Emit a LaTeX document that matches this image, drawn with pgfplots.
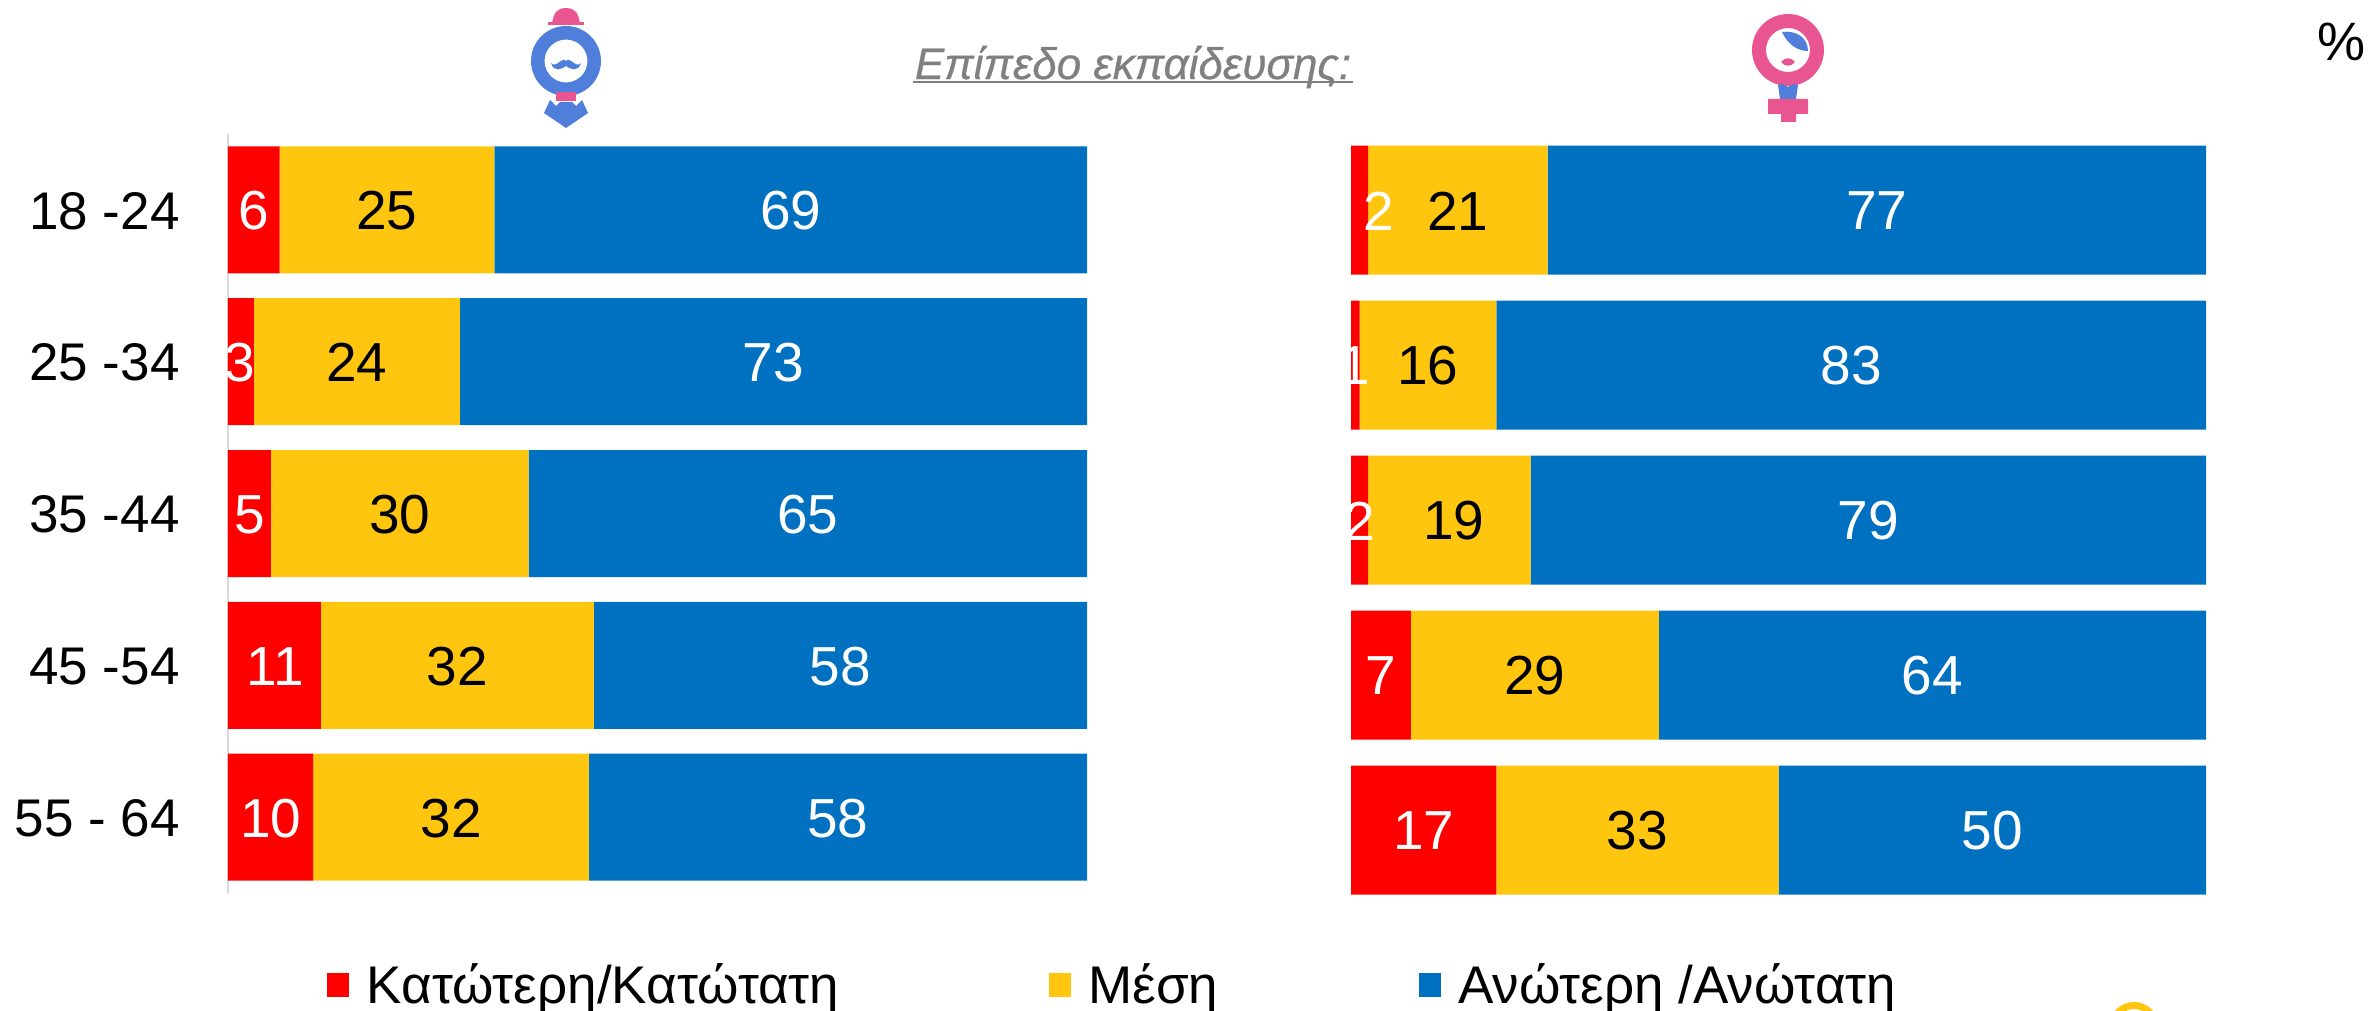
\documentclass[border=0pt]{standalone}
\usepackage{pgfplots}
\usepackage{pgfplotstable}
\pgfplotsset{compat=1.18}
\usepackage{fontspec}
\setmainfont{Liberation Sans}
\newfontfamily\titlefont[ItalicFeatures={FakeBold=0.6}]{Liberation Sans}
\definecolor{cred}{HTML}{FF0000}
\definecolor{cyel}{HTML}{FFC60F}
\definecolor{cblu}{HTML}{0070C0}
\definecolor{iblu}{HTML}{4F7FDB}
\definecolor{ipnk}{HTML}{E85590}
\pgfplotstableread{
y low mid high
0 6 25 69
1 3 24 73
2 5 30 65
3 10.8 31.8 57.4
4 9.9 32.1 58
}\leftbars
\pgfplotstableread{
y low mid high
0 2 21 77
1 1 16 83
2 2 19 79
3 7 29 64
4 17 33 50
}\rightbars
\pgfplotstableread{
x y v
3 0 6
1.4 1 3
2.5 2 5
5.5 3 11
5 4 10
65.5 0 69
63.5 1 73
67.5 2 65
71.3 3 58
71 4 58
}\leftwhite
\pgfplotstableread{
x y v
18.5 0 25
15 1 24
20 2 30
26.7 3 32
26 4 32
}\leftblack
\pgfplotstableread{
x y v
3.2 0 2
0.5 1 1
1 2 2
3.5 3 7
8.5 4 17
61.5 0 77
58.5 1 83
60.5 2 79
68 3 64
75 4 50
}\rightwhite
\pgfplotstableread{
x y v
12.5 0 21
9 1 16
12 2 19
21.5 3 29
33.5 4 33
}\rightblack
\newcommand{\fs}{\fontsize{26.5}{26.5}\selectfont}
\newcommand{\fn}{\fontsize{27.5}{27.5}\selectfont}
\pgfplotsset{
  /pgf/number format/assume math mode=true,
  base/.style={scale only axis, anchor=north west, xmin=0, xmax=100, ymin=-0.5, ymax=4.5, y dir=reverse,
    xtick=\empty, axis line style={draw=none}, clip=false},
  lab/.style={base, ytick=\empty, axis lines=none},
  wl/.style={only marks, mark=none, point meta=explicit, nodes near coords, nodes near coords align={center},
    every node near coord/.append style={font=\fn, anchor=center, inner sep=0pt, text=#1, yshift=-0.5pt}},
}
\begin{document}
\begin{tikzpicture}[x=0.5pt,y=-0.5pt]
\path[use as bounding box] (0,0) rectangle (2379,1011);
% left bars
\begin{axis}[base, at={(114pt,-67pt)}, width=429.5pt, height=379.5pt, xbar stacked, bar width=63.5pt,
  ytick={0,1,2,3,4}, yticklabels={18 -24,25 -34,35 -44,45 -54,55 - 64},
  major tick length=0pt, yticklabel style={font=\fs, inner sep=0pt, xshift=-24pt, yshift=-0.5pt},
  legend style={at={(0.115,-0.121)}, anchor=west, draw=none, fill=none, legend columns=3, font=\fs, inner sep=0pt,
    /tikz/column 1/.style={column sep=6.8pt},
    /tikz/column 2/.style={column sep=102.7pt},
    /tikz/column 3/.style={column sep=6.8pt},
    /tikz/column 4/.style={column sep=98.2pt},
    /tikz/column 5/.style={column sep=6.8pt}},
  legend image code/.code={\fill[#1] (0pt,-6pt) rectangle (11pt,6pt);},
  ]
\addplot[fill=cred,draw=none] table[x=low,y=y]{\leftbars};
\addlegendentry{Κατώτερη/Κατώτατη}
\addplot[fill=cyel,draw=none] table[x=mid,y=y]{\leftbars};
\addlegendentry{Μέση}
\addplot[fill=cblu,draw=none] table[x=high,y=y]{\leftbars};
\addlegendentry{Ανώτερη /Ανώτατη}
\draw[gray!30,line width=1pt] (axis cs:0,-0.5)--(axis cs:0,4.5);
\end{axis}
\begin{axis}[lab, at={(114pt,-67pt)}, width=429.5pt, height=379.5pt]
\addplot[wl=white] table[x=x,y=y,meta=v]{\leftwhite};
\addplot[wl=black] table[x=x,y=y,meta=v]{\leftblack};
\end{axis}
% right bars
\begin{axis}[base, at={(675.5pt,-66.25pt)}, width=427.5pt, height=387.5pt, xbar stacked, bar width=64.5pt, ytick=\empty]
\addplot[fill=cred,draw=none] table[x=low,y=y]{\rightbars};
\addplot[fill=cyel,draw=none] table[x=mid,y=y]{\rightbars};
\addplot[fill=cblu,draw=none] table[x=high,y=y]{\rightbars};
\end{axis}
\begin{axis}[lab, at={(675.5pt,-66.25pt)}, width=427.5pt, height=387.5pt]
\addplot[wl=white] table[x=x,y=y,meta=v]{\rightwhite};
\addplot[wl=black] table[x=x,y=y,meta=v]{\rightblack};
\end{axis}
% title etc
\node[text=gray, font=\titlefont\itshape\fontsize{22}{22}\selectfont, anchor=center] at (1133,67) {Επίπεδο εκπαίδευσης:};
\draw[gray,line width=1.2pt] (913,82) -- (1353,82);
\node[font=\fontsize{27}{27}\selectfont, anchor=center] at (2341,42) {\%};
% male icon
\fill[iblu,even odd rule] (566,61) circle (35) (566,61) circle (21.5);
\fill[ipnk] (552,25) .. controls (553,10) and (560,8) .. (566,8) .. controls (572,8) and (579,10) .. (580,25) -- cycle;
\fill[ipnk] (548,22) rectangle (584,25);
\fill[ipnk] (556,92) rectangle (576,101);
\fill[iblu] (550,100) -- (556,106) -- (560,102) -- (572,102) -- (576,106) -- (582,100) -- (588,113) -- (566,128) -- (544,113) -- cycle;
\fill[iblu] (551,63) .. controls (556,69) and (562,56) .. (566,61) .. controls (570,56) and (576,69) .. (581,63) .. controls (578,73) and (570,69) .. (566,66) .. controls (562,69) and (554,73) .. (551,63) -- cycle;
% female icon
\fill[ipnk,even odd rule] (1788,50) circle (36) (1788,50) circle (22);
\fill[iblu] (1782,32) .. controls (1795,30) and (1808,37) .. (1808,51) .. controls (1798,51) and (1788,45) .. (1782,32) -- cycle;
\fill[ipnk] (1781,62) .. controls (1785,57) and (1791,57) .. (1795,62) .. controls (1791,67) and (1785,67) .. (1781,62) -- cycle;
\fill[iblu] (1778,85) .. controls (1783,83) and (1786,85) .. (1788,87) .. controls (1790,85) and (1793,83) .. (1798,85) -- (1796,99) -- (1780,99) -- cycle;
\fill[ipnk] (1768,99) rectangle (1808,114) (1781,114) rectangle (1796,122);
% bottom arc
\begin{scope}
\clip (0,0) rectangle (2379,1011);
\fill[cyel,even odd rule] (2134,1027) circle (25) (2134,1027) circle (18);
\end{scope}
\end{tikzpicture}
\end{document}
